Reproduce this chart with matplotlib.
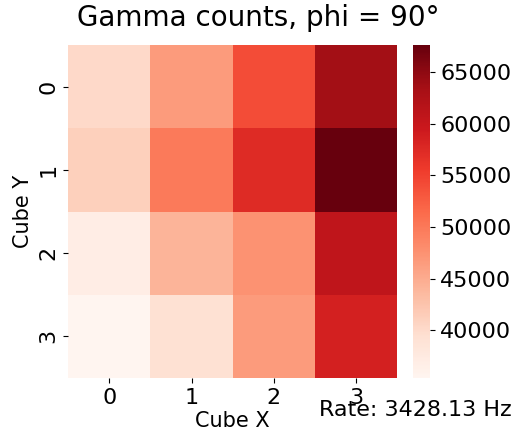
import numpy as np
import matplotlib

matplotlib.use("Agg")
import matplotlib.pyplot as plt
import seaborn as sns

# gamma counts per cube (rows = Cube Y, cols = Cube X)
cube_x = [0, 1, 2, 3]
cube_y = [0, 1, 2, 3]
counts = [
    [40200, 46700, 54100, 63700],
    [41200, 49900, 57300, 67600],
    [37000, 44100, 47600, 60800],
    [35400, 39300, 46700, 58600],
]
rate_hz = 3428.13
phi = 90

fig = plt.figure(figsize=(5.16, 4.33), dpi=100)
ax = fig.add_axes([0.132, 0.127, 0.638, 0.769])
cax = fig.add_axes([0.800, 0.127, 0.034, 0.769])
sns.heatmap(np.array(counts), cmap="Reds", ax=ax, cbar_ax=cax,
            xticklabels=cube_x, yticklabels=cube_y)
fig.suptitle(f"Gamma counts, phi = {phi}°", fontsize=20, x=0.5, y=0.99)
ax.set_xlabel("Cube X", fontsize=15, labelpad=2)
ax.set_ylabel("Cube Y", fontsize=15)
ax.tick_params(labelsize=16)
cax.tick_params(labelsize=16)
fig.text(0.992, 0.03, f"Rate: {rate_hz} Hz", fontsize=16, ha="right", va="bottom")
fig.savefig("out.png", dpi=100)
